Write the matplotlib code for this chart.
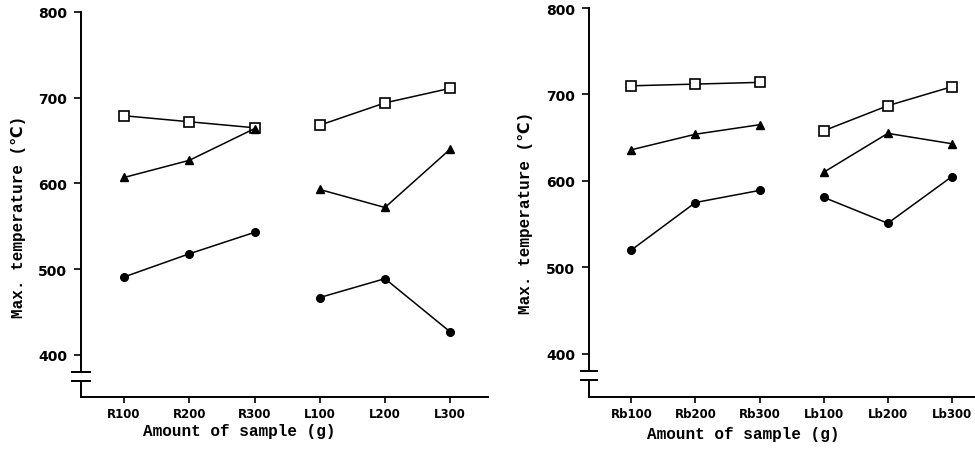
import matplotlib.pyplot as plt
from matplotlib.transforms import blended_transform_factory

# left panel: R / L samples
left_labels = ["R100", "R200", "R300", "L100", "L200", "L300"]
left_square = [679, 672, 665, 668, 694, 711]
left_triangle = [607, 627, 664, 593, 572, 640]
left_circle = [491, 518, 543, 467, 489, 427]

# right panel: Rb / Lb samples
right_labels = ["Rb100", "Rb200", "Rb300", "Lb100", "Lb200", "Lb300"]
right_square = [710, 712, 714, 658, 687, 709]
right_triangle = [636, 654, 665, 610, 655, 643]
right_circle = [520, 575, 589, 581, 551, 605]

yticks = [400, 500, 600, 700, 800]

label_font = dict(family=["Liberation Mono", "DejaVu Sans"], weight="bold", size=11.5)
xtick_font = dict(family="DejaVu Sans", weight="bold", size=8.5)
ytick_font = dict(family="DejaVu Sans", weight="bold", size=10)

fig = plt.figure(figsize=(9.75, 4.56), dpi=100)


def draw_panel(ax, labels, sq, tri, circ, xlim, ylim, xlab_pos, ylab_pos):
    x = list(range(len(labels)))
    # two groups of three, not joined to each other
    for part in (slice(0, 3), slice(3, 6)):
        ax.plot(x[part], sq[part], "-s", color="black", lw=1.1, ms=7,
                mfc="white", mec="black", mew=1.2, zorder=3)
        ax.plot(x[part], tri[part], "-^", color="black", lw=1.1, ms=5.5, zorder=3)
        ax.plot(x[part], circ[part], "-o", color="black", lw=1.1, ms=5.5, zorder=3)

    ax.set_xlim(*xlim)
    ax.set_ylim(*ylim)
    ax.set_xticks(x)
    ax.set_xticklabels(labels, fontdict=xtick_font)
    ax.set_yticks(yticks)
    ax.set_yticklabels([str(v) for v in yticks], fontdict=ytick_font)
    ax.tick_params(axis="y", direction="out", length=5, width=1.2, pad=5)
    ax.tick_params(axis="x", direction="out", length=4, width=1.2, pad=3)

    for s in ("top", "right"):
        ax.spines[s].set_visible(False)
    ax.spines["left"].set_linewidth(1.4)
    ax.spines["bottom"].set_linewidth(1.4)
    ax.spines["left"].set_bounds(380, 800)

    # axis break on the y axis
    tr = blended_transform_factory(ax.transAxes, ax.transData)
    ax.plot([0, 0], [ylim[0], 370], color="black", lw=1.4, transform=tr, clip_on=False)
    for yb in (380, 370):
        ax.plot([-0.022, 0.022], [yb, yb], color="black", lw=1.4,
                transform=tr, clip_on=False)

    ax.set_xlabel("Amount of sample (g)", fontdict=label_font)
    ax.set_ylabel("Max. temperature (\u2103)", fontdict=label_font)
    ax.xaxis.set_label_coords(*xlab_pos)
    ax.yaxis.set_label_coords(*ylab_pos)


ax1 = fig.add_axes([0.0831, 0.1272, 0.4174, 0.8443])
draw_panel(ax1, left_labels, left_square, left_triangle, left_circle,
           (-0.66, 5.58), (351, 800), (0.39, -0.068), (-0.135, 0.47))

ax2 = fig.add_axes([0.6041, 0.1272, 0.3959, 0.853])
draw_panel(ax2, right_labels, right_square, right_triangle, right_circle,
           (-0.66, 5.36), (350, 800), (0.40, -0.075), (-0.145, 0.476))

plt.savefig("out.png", dpi=100)
